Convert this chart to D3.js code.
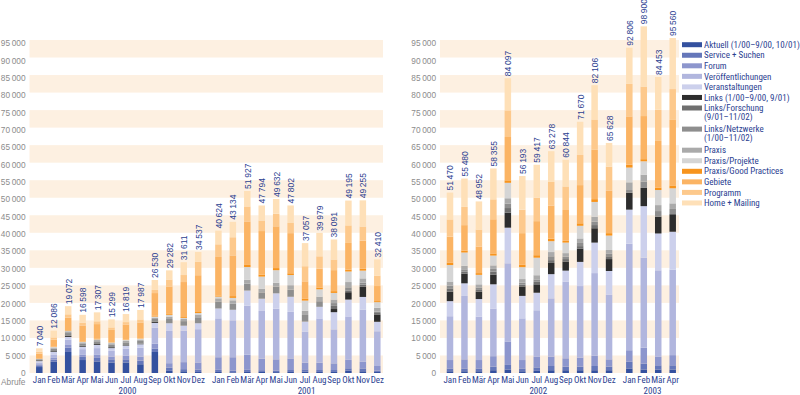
<!DOCTYPE html>
<html>
<head>
<meta charset="utf-8">
<script src="https://cdn.jsdelivr.net/npm/d3@7"></script>
<style>
body { margin: 0; background: #fff; }
text { font-family: "Liberation Sans", Arial, sans-serif; }
.narrow { font-family: "Liberation Sans Narrow", "Arial Narrow", "Roboto Condensed", sans-serif; }
</style>
</head>
<body>
<svg id="chart" width="800" height="395"></svg>
<script>
// months Jan 2000 .. Apr 2003 (40 bars)
var months = ["Jan", "Feb", "Mär", "Apr", "Mai", "Jun", "Jul", "Aug", "Sep", "Okt", "Nov", "Dez"];
var years = ["2000", "2001", "2002", "2003"];
var yTicks = [0, 5000, 10000, 15000, 20000, 25000, 30000, 35000, 40000, 45000, 50000,
  55000, 60000, 65000, 70000, 75000, 80000, 85000, 90000, 95000];

var totals = [7040, 12086, 19072, 16598, 17307, 15299, 16819, 17987, 26530, 29282, 31611, 34537,
  40624, 43134, 51927, 47794, 49632, 47802, 37057, 39979, 38091, 49195, 49255, 32410,
  51470, 55480, 48952, 58355, 84097, 56193, 59417, 63278, 60844, 71670, 82106, 65628,
  92806, 98900, 84453, 95560];

var aktuell = [1700, 3200, 6000, 3700, 3300, 3000, 3000, 2500, 6000, 600, 500, 300,
  300, 200, 300, 300, 250, 300, 350, 300, 300, 650, 500, 300,
  500, 500, 500, 800, 1000, 500, 600, 800, 800, 800, 800, 800,
  1300, 1000, 1000, 1000];
var service = [500, 600, 1200, 900, 1000, 900, 900, 1000, 1000, 900, 600, 700,
  600, 500, 600, 500, 450, 550, 700, 550, 550, 700, 800, 400,
  800, 800, 800, 1000, 1300, 800, 1000, 1200, 1000, 1000, 1200, 1000,
  1900, 1700, 1200, 1200];
var forum = [300, 500, 800, 700, 1000, 800, 1000, 1200, 1400, 1300, 2000, 2000,
  3600, 3800, 4300, 3300, 3200, 3300, 1900, 2100, 1900, 2400, 1900, 1300,
  2400, 2600, 2400, 3000, 6700, 2400, 3000, 2700, 2400, 2600, 2900, 2100,
  3300, 4500, 2400, 2900];
var veroeff = [500, 1000, 1500, 1500, 1800, 1600, 2000, 2500, 4500, 9200, 9000, 9500,
  11100, 10534, 14027, 13600, 14432, 13300, 8807, 12629, 9700, 12400, 14900, 9910,
  12500, 18080, 12400, 13600, 22300, 11900, 13300, 16600, 21900, 20400, 23600, 18400,
  30400, 25700, 24700, 24400];
var veranst = [400, 750, 800, 700, 900, 800, 900, 1000, 1400, 2200, 1400, 1700,
  2800, 3000, 4300, 3500, 4400, 4300, 2900, 3300, 4900, 4800, 3600, 2700,
  4300, 3600, 5000, 6900, 10160, 6400, 5000, 6900, 3100, 6900, 8700, 6800,
  9700, 14700, 10500, 10800];
var links = [200, 200, 300, 250, 250, 250, 150, 150, 300, 0, 0, 0,
  0, 0, 0, 0, 0, 0, 0, 0, 900, 2100, 2900, 2100,
  2700, 2800, 2100, 2800, 4300, 2700, 2400, 3200, 2600, 3800, 4100, 3400,
  4800, 5200, 4800, 5000];
var linksF = [0, 0, 0, 0, 0, 0, 0, 0, 0, 0, 0, 0,
  0, 0, 0, 0, 0, 0, 0, 0, 900, 400, 600, 400,
  800, 500, 500, 800, 1300, 500, 700, 800, 700, 700, 900, 800,
  0, 0, 0, 0];
var linksN = [300, 700, 800, 700, 800, 800, 800, 800, 800, 1200, 1300, 1700,
  2000, 1800, 2000, 1800, 1900, 2000, 1900, 1600, 800, 1000, 600, 400,
  900, 700, 700, 800, 1300, 600, 700, 1100, 700, 900, 1000, 700,
  800, 1800, 1600, 1500];
var praxis = [150, 300, 500, 300, 350, 350, 400, 400, 400, 700, 600, 800,
  900, 900, 1100, 1000, 1100, 1300, 1200, 1300, 1000, 1500, 1200, 1100,
  1200, 1000, 900, 1000, 1500, 1000, 1200, 1200, 1000, 1300, 1400, 1100,
  2200, 2000, 1700, 1600];
var projekte = [0, 150, 200, 150, 200, 200, 250, 250, 300, 500, 300, 400,
  500, 700, 3600, 3500, 3600, 2900, 2900, 2100, 1900, 3000, 2200, 1600,
  4700, 3800, 2700, 2800, 4400, 3400, 5000, 3100, 3000, 3600, 4200, 4100,
  4200, 3800, 4300, 4300];
var goodPr = [50, 100, 150, 150, 150, 100, 100, 100, 200, 250, 250, 300,
  300, 500, 600, 600, 600, 500, 500, 500, 500, 550, 600, 300,
  700, 500, 500, 600, 700, 700, 700, 700, 500, 700, 800, 700,
  800, 600, 700, 800];
var gebiete = [1440, 2000, 3500, 4498, 4200, 3500, 4319, 4500, 6500, 7832, 10000, 10500,
  11000, 11600, 12400, 12394, 11900, 11452, 5000, 5400, 6000, 7600, 7955, 4300,
  7400, 7300, 7600, 9755, 12370, 9000, 9717, 9500, 8800, 10900, 14100, 12100,
  13800, 12300, 13300, 18700];
var programm = [600, 650, 1000, 800, 800, 699, 700, 900, 900, 2000, 2000, 3800,
  3624, 5200, 4300, 3000, 3600, 2900, 4300, 3500, 3000, 5000, 4000, 3000,
  4900, 5200, 4800, 5700, 7600, 6700, 6700, 6700, 6700, 8600, 8600, 6900,
  9300, 8400, 8900, 8800];
var home = [900, 1936, 2322, 2250, 2557, 2300, 2300, 2687, 2830, 2600, 3661, 2837,
  3900, 4400, 4400, 4300, 4200, 5000, 6600, 6700, 5741, 7095, 7500, 4600,
  7670, 8100, 8052, 8800, 9167, 9593, 9400, 8778, 7644, 9470, 9806, 6728,
  10306, 17200, 9353, 14560];

var keys = ["aktuell", "service", "forum", "veroeff", "veranst", "links", "linksF",
  "linksN", "praxis", "projekte", "goodPr", "gebiete", "programm", "home"];
var values = [aktuell, service, forum, veroeff, veranst, links, linksF,
  linksN, praxis, projekte, goodPr, gebiete, programm, home];
var names = ["Aktuell (1/00–9/00, 10/01)", "Service + Suchen", "Forum", "Veröffentlichungen",
  "Veranstaltungen", "Links (1/00–9/00, 9/01)", "Links/Forschung|(9/01–11/02)",
  "Links/Netzwerke|(1/00–11/02)", "Praxis", "Praxis/Projekte", "Praxis/Good Practices",
  "Gebiete", "Programm", "Home + Mailing"];
var colors = ["#34519f", "#6577ba", "#8d96cd", "#b1b6de", "#ccd0ec", "#2d2d2d", "#6f6f6f",
  "#8e8e8e", "#aaaaaa", "#d5d5d5", "#f7941d", "#fbb464", "#fdc98c", "#fee0b8"];

var blue = "#2b4191";
var svg = d3.select("#chart");

var rows = totals.map(function(t, i) {
  var r = { i: i };
  keys.forEach(function(k, j) { r[k] = values[j][i]; });
  return r;
});
var stacked = d3.stack().keys(keys)(rows);

var y = d3.scaleLinear().domain([0, 95000]).range([373, 40]);
var yLab = d3.scaleLinear().domain([0, 95000]).range([372.7, 43.3]);
var xL = d3.scaleLinear().domain([0, 23.4]).range([39.3, 377.3]);
var xR = d3.scaleLinear().domain([0, 15.4]).range([450, 672.7]);

function slot(i) {
  var p = i < 24 ? i : i - 24;
  return p + Math.floor(p / 12) * 0.4;
}
function xOf(i) { return i < 24 ? xL(slot(i)) : xR(slot(i)); }

var fmt = d3.formatLocale({ decimal: ",", thousands: "\u2009", grouping: [3], currency: ["", ""] }).format(",d");

// background bands + y axis for each panel
var panels = [{ x0: 29.5, x1: 383, ax: 25.5 }, { x0: 440, x1: 679, ax: 436 }];
panels.forEach(function(p) {
  svg.append("g").selectAll("rect")
    .data(yTicks.filter(function(v) { return v % 10000 == 0; }))
    .enter().append("rect")
    .attr("x", p.x0).attr("width", p.x1 - p.x0)
    .attr("y", function(v) { return y(v + 5000); })
    .attr("height", function(v) { return y(v) - y(v + 5000); })
    .attr("fill", "#fdf0e1");

  var ax = svg.append("g")
    .attr("transform", "translate(" + p.ax + ",0)")
    .call(d3.axisLeft(yLab).tickValues(yTicks).tickSize(0).tickPadding(0).tickFormat(fmt));
  ax.select(".domain").remove();
  ax.selectAll("text").attr("fill", "#8c8c8c").style("font-size", "8.3px")
    .style("font-family", "Liberation Sans, Arial, sans-serif");
});

svg.append("text").attr("x", 1).attr("y", 385).text("Abrufe")
  .attr("fill", "#8c8c8c").style("font-size", "8.3px");

// stacked bars
var bw = 6.5;
svg.append("g").selectAll("g")
  .data(stacked)
  .enter().append("g")
  .attr("fill", function(d, k) { return colors[k]; })
  .selectAll("rect")
  .data(function(d) { return d; })
  .enter().append("rect")
  .attr("x", function(d) { return xOf(d.data.i) - bw / 2; })
  .attr("width", bw)
  .attr("y", function(d) { return y(d[1]); })
  .attr("height", function(d) { return Math.max(0, y(d[0]) - y(d[1])); });

// total labels
svg.append("g").selectAll("text")
  .data(totals)
  .enter().append("text")
  .attr("transform", function(t, i) {
    return "translate(" + (xOf(i) + 0.5) + "," + (y(t) - 2) + ") rotate(-90)";
  })
  .attr("dy", "0.35em")
  .attr("fill", blue)
  .style("font-size", "8.5px")
  .text(function(t) { return fmt(t); });

// month labels
svg.append("g").selectAll("text")
  .data(totals)
  .enter().append("text")
  .attr("class", "narrow")
  .attr("x", function(t, i) { return xOf(i); })
  .attr("y", 382.5)
  .attr("text-anchor", "middle")
  .attr("fill", blue)
  .style("font-size", "9px")
  .text(function(t, i) { return months[i % 12]; });

// year labels
var yearAt = [6, 18, 30, 37.5];
svg.append("g").selectAll("text")
  .data(years)
  .enter().append("text")
  .attr("class", "narrow")
  .attr("x", function(d, k) {
    var i = yearAt[k], lo = Math.floor(i), f = i - lo;
    return xOf(lo) + f * (xOf(lo + 1) - xOf(lo)) + 1.5;
  })
  .attr("y", 394)
  .attr("text-anchor", "middle")
  .attr("fill", blue)
  .style("font-size", "9px")
  .text(function(d) { return d; });

// legend
var legRow = [0, 1, 2, 3, 4, 5, 6, 8, 10, 11, 12, 13, 14, 15];
var leg = svg.append("g").selectAll("g")
  .data(names)
  .enter().append("g")
  .attr("transform", function(d, k) { return "translate(682," + (44.7 + legRow[k] * 10.55) + ")"; });
leg.append("rect").attr("x", 0).attr("y", -2.5).attr("width", 20).attr("height", 5)
  .attr("fill", function(d, k) { return colors[k]; });
leg.selectAll("text")
  .data(function(d) { return d.split("|"); })
  .enter().append("text")
  .attr("class", "narrow")
  .attr("x", 22)
  .attr("y", function(d, j) { return j * 8.6; })
  .attr("dy", "0.35em")
  .attr("fill", blue).style("font-size", "9px")
  .text(function(d) { return d; });
</script>
</body>
</html>
